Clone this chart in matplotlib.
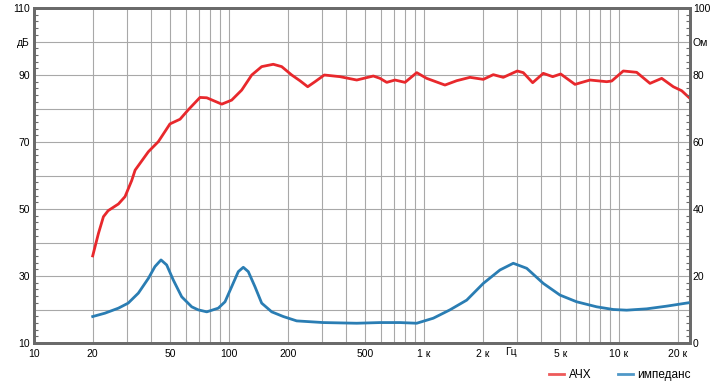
import matplotlib
matplotlib.use("Agg")
import matplotlib.pyplot as plt
from matplotlib.ticker import MultipleLocator, FixedLocator
from matplotlib.lines import Line2D
import matplotlib.transforms as mtransforms
from matplotlib import font_manager

# --- data -------------------------------------------------------------
spl_freq = [20, 21.4, 22.7, 24.0, 27.1, 29.3, 31.7, 33.0, 38.6, 43.4, 49.8, 56.1,
            61.8, 71.0, 76.9, 91.8, 103.2, 116.2, 130.8, 147.1, 168.7, 186.3,
            209.7, 231, 253.3, 276.1, 308.1, 371, 452, 550, 595, 644, 710, 799,
            918, 1032, 1281, 1472, 1721, 2015, 2267, 2551, 3010, 3230, 3609, 4090,
            4571, 5023, 5948, 7100, 8647, 9175, 10520, 12320, 14420, 16560, 18990,
            20970, 23130]
spl_db = [36, 42.7, 47.7, 49.5, 51.5, 53.7, 58.5, 61.6, 67.1, 70.1, 75.4, 76.8,
          79.6, 83.3, 83.2, 81.3, 82.5, 85.5, 90.0, 92.5, 93.2, 92.5,
          90.0, 88.3, 86.5, 88.0, 90.0, 89.5, 88.5, 89.7, 89.0, 87.8, 88.5, 87.8,
          90.7, 89.0, 87.0, 88.3, 89.3, 88.7, 90.1, 89.3, 91.2, 90.7, 87.7, 90.5,
          89.5, 90.3, 87.2, 88.5, 88.0, 88.2, 91.2, 90.8, 87.5, 89.0, 86.5,
          85.3, 83.0]

imp_freq = [20, 23.1, 27.1, 30.4, 34.3, 38.6, 41.7, 44.8, 47.9, 51.8, 57.2, 64.4,
            69.5, 76.9, 88.1, 95.4, 103.2, 111.6, 118.4, 125.6, 135.9, 147.1,
            165.6, 189.9, 222.4, 304.5, 451.7, 594.9, 753, 917.6, 1116, 1359, 1656,
            2015, 2453, 2871, 3363, 4090, 4983, 6068, 7687, 9350, 10950, 13880,
            17560, 22670]
imp_ohm = [7.9, 8.9, 10.4, 11.9, 14.9, 19.3, 22.8, 24.8, 23.3, 18.8, 13.8, 10.8,
           9.9, 9.3, 10.4, 12.3, 16.8, 21.3, 22.6, 21.3, 16.8, 11.9,
           9.3, 7.9, 6.6, 6.1, 5.9, 6.1, 6.1, 5.9, 7.4, 9.9, 12.8,
           17.8, 21.8, 23.8, 22.3, 17.8, 14.3, 12.3, 10.8, 10.0, 9.8, 10.2,
           11.0, 12.0]

x_grid = [m * 10 ** d for d in range(1, 5) for m in range(1, 10) if m * 10 ** d <= 20000]
x_labels = {10: "10", 20: "20", 50: "50", 100: "100", 200: "200", 500: "500",
            1000: "1 к", 2000: "2 к", 5000: "5 к", 10000: "10 к", 20000: "20 к"}
hz_label_pos = 2800
left_ticks = list(range(10, 111, 10))
left_labels = ["10", "", "30", "", "50", "", "70", "", "90", "дБ", "110"]
right_ticks = list(range(0, 101, 10))
right_labels = ["0", "", "20", "", "40", "", "60", "", "80", "Ом", "100"]
legend_labels = ["АЧХ", "импеданс"]

RED = "#e8282c"
BLUE = "#2a7db3"
FRAME = "#6a6a6a"
GRID = "#a8a8a8"

names = {f.name for f in font_manager.fontManager.ttflist}
fam = ["Liberation Sans Narrow", "DejaVu Sans"] if "Liberation Sans Narrow" in names \
    else ["Liberation Sans", "DejaVu Sans"]
plt.rcParams["font.family"] = fam

fig = plt.figure(figsize=(7.16, 3.90), dpi=100)
W, H = 716, 390
x0, x1, y0, y1 = 34, 690, 8, 343
ax = fig.add_axes([x0 / W, 1 - y1 / H, (x1 - x0) / W, (y1 - y0) / H])
ax.set_xscale("log")
ax.set_xlim(10, 23130)
ax.set_ylim(10, 110)

ax.xaxis.set_major_locator(FixedLocator(x_grid))
ax.xaxis.set_minor_locator(FixedLocator([]))
ax.set_xticklabels([x_labels.get(v, "") for v in x_grid], fontsize=7.5)
ax.tick_params(axis="x", which="major", length=0, pad=4)

ax.set_yticks(left_ticks)
ax.set_yticklabels(left_labels, fontsize=7.5)
ax.yaxis.set_minor_locator(MultipleLocator(2))
ax.tick_params(axis="y", which="major", length=0, pad=3)
ax.tick_params(axis="y", which="minor", direction="in", length=3, color=FRAME, width=0.8)

ax.grid(True, which="major", color=GRID, linewidth=0.8)
for s in ax.spines.values():
    s.set_color(FRAME)
    s.set_linewidth(2.0)

trans = mtransforms.blended_transform_factory(ax.transData, ax.transAxes)
ax.text(hz_label_pos, -0.013, "Гц", transform=trans, ha="center", va="top", fontsize=7.5)

ax.plot(spl_freq, spl_db, color=RED, lw=2.0, solid_joinstyle="round", zorder=5)

ax2 = ax.twinx()
ax2.set_ylim(0, 100)
ax2.set_yticks(right_ticks)
ax2.set_yticklabels(right_labels, fontsize=7.5)
ax2.yaxis.set_minor_locator(MultipleLocator(2))
ax2.tick_params(axis="y", which="major", length=0, pad=2)
ax2.tick_params(axis="y", which="minor", direction="in", length=3, color=FRAME, width=0.8)
for s in ax2.spines.values():
    s.set_color(FRAME)
    s.set_linewidth(2.0)
ax2.plot(imp_freq, imp_ohm, color=BLUE, lw=2.0, solid_joinstyle="round", zorder=4)

handles = [Line2D([], [], color="#ee5a5a", lw=2), Line2D([], [], color="#4f98c8", lw=2)]
fig.legend(handles, legend_labels, loc="center right",
           bbox_to_anchor=(691 / W, 1 - 375 / H), ncol=2, frameon=False,
           fontsize=8.5, handlelength=1.27, handletextpad=0.42, columnspacing=2.2,
           borderpad=0, borderaxespad=0)

fig.savefig("out.png", dpi=100)
